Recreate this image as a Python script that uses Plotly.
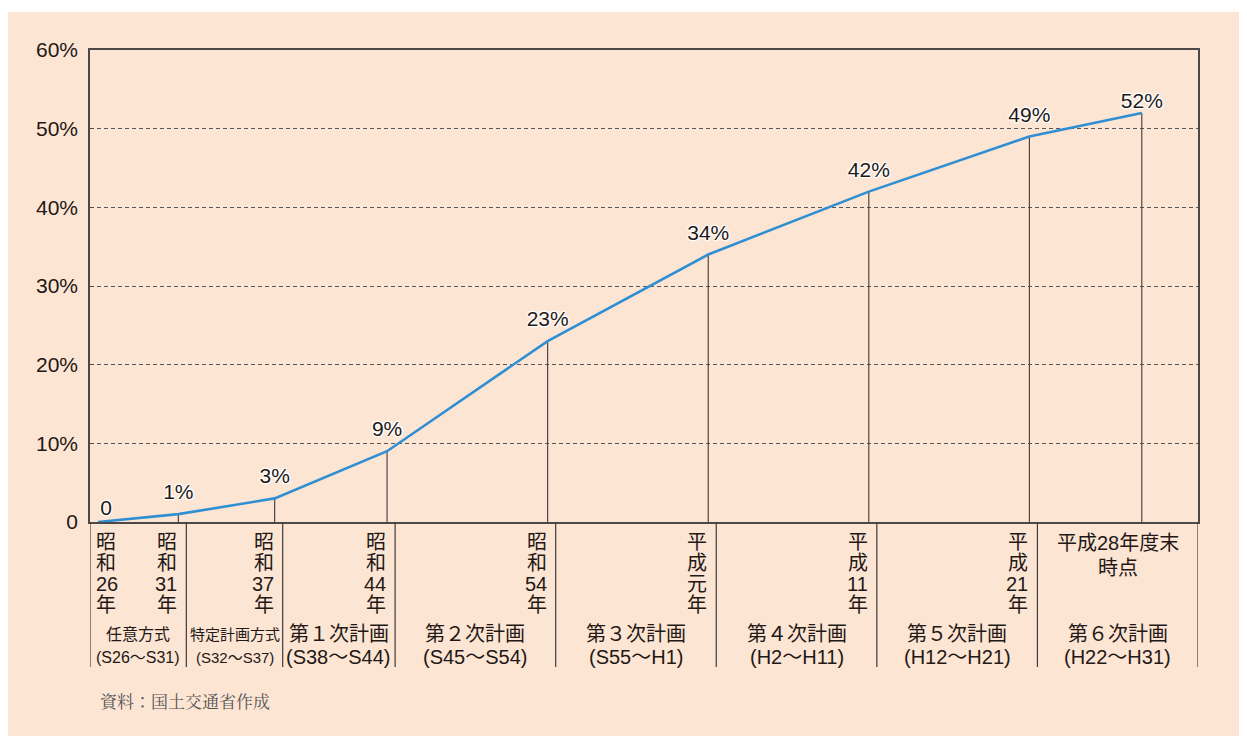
import plotly.graph_objects as go

# 達成率の推移 (年度末時点)
years = [1951, 1956, 1962, 1969, 1979, 1989, 1999, 2009, 2016]
rates = [0, 1, 3, 9, 23, 34, 42, 49, 52]
rate_labels = ["0", "1%", "3%", "9%", "23%", "34%", "42%", "49%", "52%"]
year_labels = [
    ["昭", "和", "26", "年"],
    ["昭", "和", "31", "年"],
    ["昭", "和", "37", "年"],
    ["昭", "和", "44", "年"],
    ["昭", "和", "54", "年"],
    ["平", "成", "元", "年"],
    ["平", "成", "11", "年"],
    ["平", "成", "21", "年"],
    ["平成28年度末", "時点"],
]

plan_names = ["任意方式", "特定計画方式", "第１次計画", "第２次計画",
              "第３次計画", "第４次計画", "第５次計画", "第６次計画"]
plan_spans = ["(S26〜S31)", "(S32〜S37)", "(S38〜S44)", "(S45〜S54)",
              "(S55〜H1)", "(H2〜H11)", "(H12〜H21)", "(H22〜H31)"]
plan_start = [1951, 1957, 1963, 1970, 1980, 1990, 2000, 2010]
plan_end = [1956, 1962, 1969, 1979, 1989, 1999, 2009, 2019]

y_ticks = [0, 10, 20, 30, 40, 50, 60]
y_ticktext = ["0", "10%", "20%", "30%", "40%", "50%", "60%"]

W, H = 1247, 736
OFF = 8  # page body margin
L, T = 90 - OFF, 50 - OFF
R = W - (1198 - OFF)
B = H - (522 - OFF)
PLOT_W = W - L - R
PLOT_H = H - T - B

FONT = "Liberation Sans, Arial, Noto Sans CJK JP, sans-serif"
INK = "#231815"
FRAME = "#4d4747"
BLUE = "#2f8fd2"
PEACH = "#fde5d4"


def px_x(p):
    return (p - OFF - L) / PLOT_W


def px_y(p):
    return (H - B - (p - OFF)) / PLOT_H


fig = go.Figure()

# vertical drop lines from each point to the axis
drop_x, drop_y = [], []
for yr, v in zip(years, rates):
    drop_x += [yr, yr, None]
    drop_y += [0, v, None]
fig.add_trace(go.Scatter(x=drop_x, y=drop_y, mode="lines",
                         line=dict(color="#3e3a39", width=1.1),
                         hoverinfo="skip", showlegend=False))

halo = ("1px 1px 1px white, -1px -1px 1px white, 1px -1px 1px white, "
        "-1px 1px 1px white, 0 1px 1px white, 0 -1px 1px white")
label_pos = ["top right"] + ["top center"] * (len(years) - 1)
label_gap = [2] + [14] * (len(years) - 2) + [0]
fig.add_trace(go.Scatter(x=years, y=rates, mode="lines+markers+text",
                         text=rate_labels, textposition=label_pos,
                         textfont=dict(family=FONT, size=21, color=INK, shadow=halo),
                         marker=dict(size=label_gap, opacity=0),
                         line=dict(color=BLUE, width=2.6),
                         cliponaxis=False, showlegend=False))

shapes = [dict(type="rect", xref="paper", yref="paper", layer="below",
               x0=px_x(0), x1=px_x(W + 20), y0=px_y(H + 20), y1=px_y(12),
               fillcolor=PEACH, line=dict(width=0))]

# table separators below the axis
bounds = [plan_start[0] - 0.5] + [e + 0.5 for e in plan_end]
for b in bounds:
    shapes.append(dict(type="line", xref="x", yref="paper",
                       x0=b, x1=b, y0=0, y1=px_y(667),
                       line=dict(color="#3e3a39", width=1.2)))

annotations = []
# year labels, stacked vertically
for i, (yr, lines) in enumerate(zip(years, year_labels)):
    if len(lines) == 2:
        for k, s in enumerate(lines):
            annotations.append(dict(x=(plan_start[-1] + plan_end[-1]) / 2, y=px_y(543 + k * 25),
                                    xref="x", yref="paper", text=s, showarrow=False,
                                    xanchor="center", yanchor="middle",
                                    font=dict(family=FONT, size=20, color=INK)))
        continue
    for k, s in enumerate(lines):
        annotations.append(dict(x=yr, y=px_y(542 + k * 21), xref="x", yref="paper",
                                text=s, showarrow=False,
                                xanchor="left" if i == 0 else "right",
                                xshift=-4 if i == 0 else 1, yanchor="middle",
                                font=dict(family=FONT, size=20, color=INK)))

# plan names and periods
for i, (nm, sp, s, e) in enumerate(zip(plan_names, plan_spans, plan_start, plan_end)):
    sz = 20 if i > 1 else (16 if i == 0 else 15)
    cx = (s + e) / 2
    annotations.append(dict(x=cx, y=px_y(634), xref="x", yref="paper", text=nm,
                            showarrow=False, xanchor="center", yanchor="middle",
                            font=dict(family=FONT, size=sz, color=INK)))
    annotations.append(dict(x=cx, y=px_y(657), xref="x", yref="paper", text=sp,
                            showarrow=False, xanchor="center", yanchor="middle",
                            font=dict(family=FONT, size=sz, color=INK)))

annotations.append(dict(x=px_x(98), y=px_y(700), xref="paper", yref="paper",
                        text="資料：国土交通省作成", showarrow=False,
                        xanchor="left", yanchor="middle",
                        font=dict(family="Noto Serif CJK JP, Noto Sans CJK JP", size=17, color="#555")))

fig.update_layout(
    width=W, height=H,
    margin=dict(l=L, r=R, t=T, b=B),
    paper_bgcolor="white", plot_bgcolor=PEACH,
    shapes=shapes, annotations=annotations,
    xaxis=dict(range=[plan_start[0] - 0.5, plan_end[-1] + 0.5], showgrid=False,
               zeroline=False, showticklabels=False, ticks="",
               showline=True, mirror=True, linecolor=FRAME, linewidth=1.5),
    yaxis=dict(range=[0, 60], tickvals=y_ticks, ticktext=y_ticktext,
               showgrid=True, gridcolor="#595757", gridwidth=1, griddash="4px,3px",
               zeroline=False, showline=True, mirror=True, linecolor=FRAME, linewidth=1.5,
               ticks="inside", ticklen=3, tickcolor=FRAME, ticklabelstandoff=6,
               tickfont=dict(family=FONT, size=21, color=INK)),
    showlegend=False,
)

fig.write_html("out.html")
